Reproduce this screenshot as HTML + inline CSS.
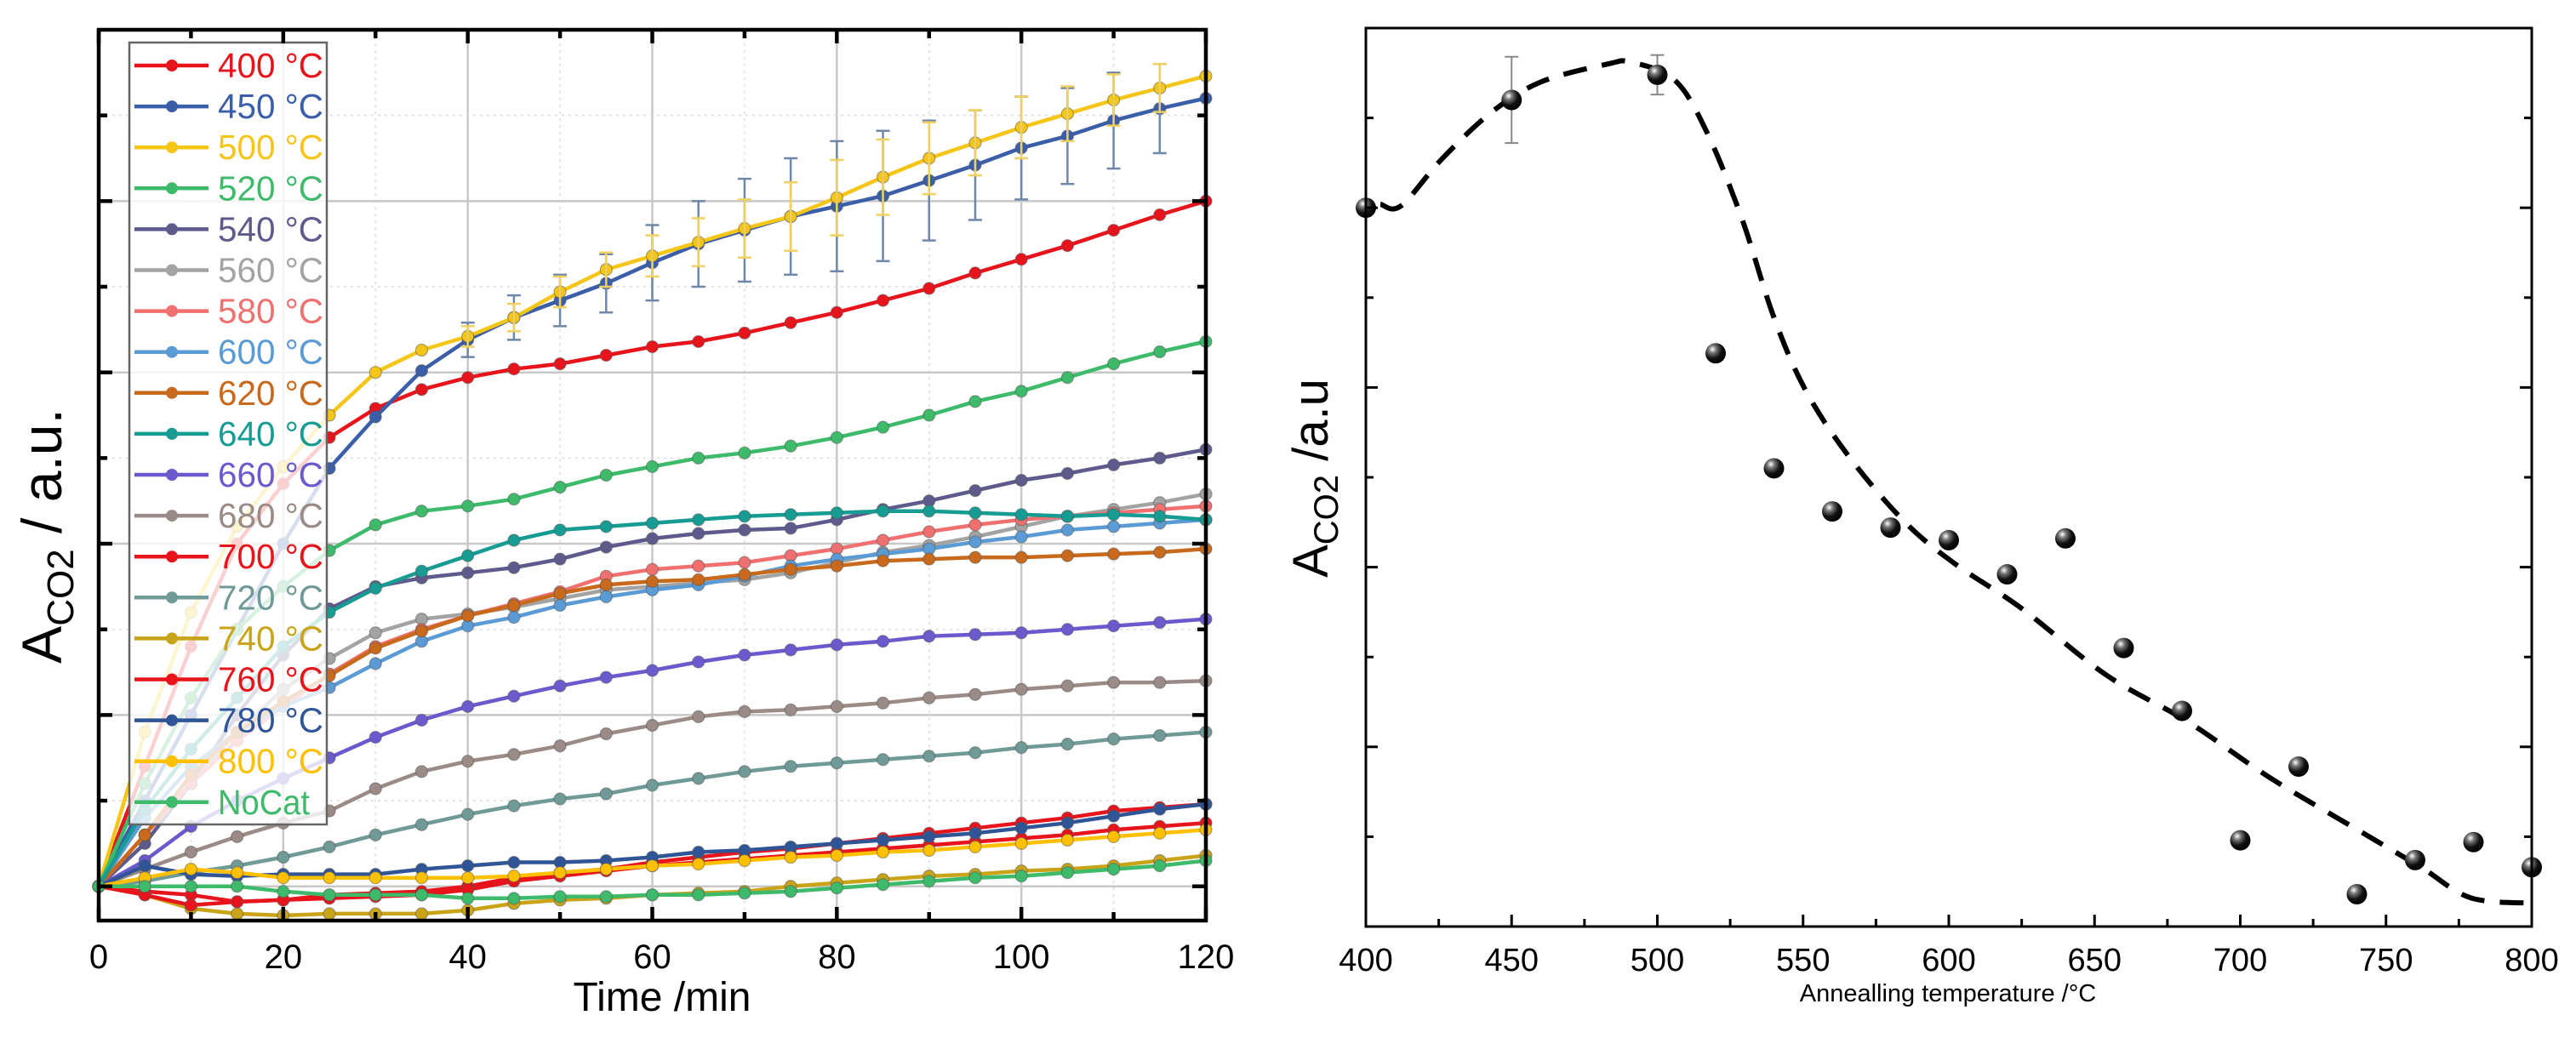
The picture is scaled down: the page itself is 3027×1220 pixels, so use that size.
<!DOCTYPE html>
<html><head><meta charset="utf-8">
<style>
html,body{margin:0;padding:0;background:#fff;}
svg{display:block;font-family:"Liberation Sans",Arial,sans-serif;}
</style></head>
<body>
<svg id="chart" width="3027" height="1220" viewBox="0 0 3027 1220" xmlns="http://www.w3.org/2000/svg">
<defs>
<radialGradient id="sph" cx="0.35" cy="0.3" r="0.75">
<stop offset="0" stop-color="#ffffff"/><stop offset="0.25" stop-color="#777"/><stop offset="0.6" stop-color="#111"/><stop offset="1" stop-color="#000"/>
</radialGradient>
</defs>
<g id="left"></g>
<g id="right"></g>
</svg>
<script>
// ---------- LEFT CHART DATA ----------
const times = [0,5,10,15,20,25,30,35,40,45,50,55,60,65,70,75,80,85,90,95,100,105,110,115,120];
const xTickLabels = ["0","20","40","60","80","100","120"];
const seriesNames = ["400 °C","450 °C","500 °C","520 °C","540 °C","560 °C","580 °C","600 °C","620 °C","640 °C","660 °C","680 °C","700 °C","720 °C","740 °C","760 °C","780 °C","800 °C","NoCat"];
const seriesColors = ["#e8141c","#3a5ea8","#f5c518","#3dbb6a","#5e5a8c","#a3a3a3","#f07070","#5b9bd5","#c8691c","#179c94","#6a5acd","#9b8b86","#e8141c","#6f9a98","#c9a318","#e8141c","#2f5597","#ffc000","#3dbb6a"];
const s400 = [0,0.7,1.4,2.0,2.35,2.62,2.79,2.90,2.97,3.02,3.05,3.10,3.15,3.18,3.23,3.29,3.35,3.42,3.49,3.58,3.66,3.74,3.83,3.92,4.0];
const s450 = [0,0.5,1.0,1.5,2.0,2.44,2.74,3.01,3.19,3.32,3.42,3.52,3.64,3.75,3.83,3.91,3.97,4.03,4.12,4.21,4.31,4.38,4.47,4.54,4.60];
const s500 = [0,0.9,1.6,2.1,2.45,2.75,3.0,3.13,3.21,3.32,3.47,3.6,3.68,3.76,3.84,3.91,4.02,4.14,4.25,4.34,4.43,4.51,4.59,4.66,4.73];
const s520 = [0,0.6,1.1,1.5,1.75,1.96,2.11,2.19,2.22,2.26,2.33,2.40,2.45,2.50,2.53,2.57,2.62,2.68,2.75,2.83,2.89,2.97,3.05,3.12,3.18];
const s540 = [0,0.25,0.6,1.0,1.35,1.62,1.75,1.80,1.83,1.86,1.91,1.98,2.03,2.06,2.08,2.09,2.14,2.20,2.25,2.31,2.37,2.41,2.46,2.50,2.55];
const s560 = [0,0.3,0.6,0.9,1.15,1.33,1.48,1.56,1.59,1.63,1.68,1.73,1.75,1.77,1.79,1.83,1.89,1.95,1.99,2.04,2.10,2.16,2.20,2.24,2.29];
const s580 = [0,0.3,0.6,0.85,1.05,1.24,1.40,1.50,1.58,1.65,1.72,1.81,1.85,1.87,1.89,1.93,1.97,2.02,2.07,2.11,2.14,2.16,2.18,2.20,2.22];
const s600 = [0,0.4,0.7,0.9,1.05,1.16,1.30,1.43,1.52,1.57,1.64,1.69,1.73,1.76,1.81,1.87,1.91,1.94,1.97,2.01,2.04,2.08,2.10,2.12,2.14];
const s620 = [0,0.3,0.65,0.9,1.08,1.23,1.39,1.49,1.58,1.64,1.71,1.76,1.78,1.79,1.82,1.85,1.87,1.90,1.91,1.92,1.92,1.93,1.94,1.95,1.97];
const s640 = [0,0.45,0.8,1.1,1.4,1.60,1.74,1.84,1.93,2.02,2.08,2.10,2.12,2.14,2.16,2.17,2.18,2.19,2.19,2.18,2.17,2.16,2.17,2.16,2.14];
const s660 = [0,0.15,0.35,0.5,0.63,0.75,0.87,0.97,1.05,1.11,1.17,1.22,1.26,1.31,1.35,1.38,1.41,1.43,1.46,1.47,1.48,1.50,1.52,1.54,1.56];
const s680 = [0,0.1,0.2,0.29,0.37,0.44,0.57,0.67,0.73,0.77,0.82,0.89,0.94,0.99,1.02,1.03,1.05,1.07,1.10,1.12,1.15,1.17,1.19,1.19,1.20];
const s700 = [0,-0.03,-0.05,-0.09,-0.08,-0.05,-0.04,-0.03,0.0,0.05,0.08,0.10,0.14,0.17,0.2,0.22,0.25,0.28,0.31,0.34,0.37,0.40,0.44,0.46,0.48];
const s720 = [0,0.03,0.08,0.12,0.17,0.23,0.30,0.36,0.42,0.47,0.51,0.54,0.59,0.63,0.67,0.70,0.72,0.74,0.76,0.78,0.81,0.83,0.86,0.88,0.90];
const s740 = [0,-0.05,-0.13,-0.16,-0.17,-0.16,-0.16,-0.16,-0.14,-0.10,-0.08,-0.07,-0.05,-0.04,-0.03,0.0,0.02,0.04,0.06,0.07,0.09,0.10,0.12,0.15,0.18];
const s760 = [0,-0.05,-0.11,-0.09,-0.08,-0.07,-0.06,-0.05,-0.02,0.03,0.06,0.09,0.12,0.14,0.16,0.18,0.20,0.22,0.24,0.26,0.28,0.30,0.33,0.35,0.37];
const s780 = [0,0.12,0.07,0.06,0.07,0.07,0.07,0.1,0.12,0.14,0.14,0.15,0.17,0.20,0.21,0.23,0.25,0.27,0.29,0.31,0.34,0.37,0.41,0.45,0.48];
const s800 = [0,0.05,0.1,0.08,0.05,0.05,0.05,0.05,0.05,0.06,0.08,0.10,0.12,0.13,0.15,0.17,0.18,0.20,0.21,0.23,0.25,0.27,0.29,0.31,0.33];
const sNoCat = [0,0.0,0.0,0.0,-0.03,-0.05,-0.05,-0.05,-0.07,-0.07,-0.06,-0.06,-0.05,-0.05,-0.04,-0.03,-0.01,0.01,0.03,0.05,0.06,0.08,0.10,0.12,0.15];
const err450 = [null,null,null,null,null,null,null,null,0.10,0.13,0.15,0.17,0.22,0.25,0.30,0.34,0.38,0.38,0.35,0.32,0.30,0.28,0.28,0.26,null];
const err500 = [null,null,null,null,null,null,null,null,0.06,0.08,0.09,0.10,0.12,0.14,0.17,0.20,0.22,0.22,0.21,0.19,0.18,0.16,0.15,0.14,null];
const allSeries = [s400,s450,s500,s520,s540,s560,s580,s600,s620,s640,s660,s680,s700,s720,s740,s760,s780,s800,sNoCat];

// ---------- RIGHT CHART DATA ----------
const annealT = [400,450,500,520,540,560,580,600,620,640,660,680,700,720,740,760,780,800];
const annealV = [4.0,4.6,4.74,3.19,2.55,2.31,2.22,2.15,1.96,2.16,1.55,1.20,0.48,0.89,0.18,0.37,0.47,0.33];
const annealErr = [0,0.24,0.11,0,0,0,0,0,0,0,0,0,0,0,0,0,0,0];
const fitT = [405,412,426,443,460,483,491,506,517,529,540,551,566,585,602,625,654,682,710,739,762,779,800];
const fitV = [4.02,4.01,4.27,4.53,4.70,4.80,4.81,4.71,4.42,3.94,3.39,2.98,2.61,2.25,2.02,1.77,1.40,1.14,0.83,0.55,0.33,0.16,0.13];
const rTickLabels = ["400","450","500","550","600","650","700","750","800"];

const NS="http://www.w3.org/2000/svg";
function mk(parent,tag,attrs){const e=document.createElementNS(NS,tag);for(const k in attrs)e.setAttribute(k,attrs[k]);parent.appendChild(e);return e;}

// ---------- LEFT ----------
(function(){
const g=document.getElementById('left');
const X0=116,X1=1417,Y0=35,Y1=1082;
const xMin=0,xMax=120,yMin=-0.2,yMax=5;
const xs=t=>X0+(t-xMin)/(xMax-xMin)*(X1-X0);
const ys=v=>Y1-(v-yMin)/(yMax-yMin)*(Y1-Y0);
const grid=mk(g,'g',{});


for(let t=10;t<120;t+=10){const major=t%20===0;
 mk(grid,'line',{x1:xs(t),x2:xs(t),y1:Y0,y2:Y1,stroke:major?'#c8c8c8':'#dcdcdc','stroke-width':major?2.5:1.5,'stroke-dasharray':major?'':'3 5'});}
for(let k=0;k<=9;k++){const v=k*0.5;if(ys(v)<Y0+3)continue;const major=k%2===0;
 mk(grid,'line',{x1:X0,x2:X1,y1:ys(v),y2:ys(v),stroke:major?'#c8c8c8':'#dcdcdc','stroke-width':major?2.5:1.5,'stroke-dasharray':major?'':'3 5'});}
allSeries.forEach((arr,i)=>{
 const sg=mk(g,'g',{});
 
 
 const d=arr.map((v,j)=>(j?'L':'M')+xs(times[j]).toFixed(1)+','+ys(v).toFixed(1)).join(' ');
 mk(sg,'path',{d:d,fill:'none',stroke:seriesColors[i],'stroke-width':4.5,'stroke-linejoin':'round'});
 arr.forEach((v,j)=>{const c=mk(sg,'circle',{cx:xs(times[j]),cy:ys(v),r:7,fill:seriesColors[i],stroke:'#555','stroke-width':1.2,'stroke-opacity':0.5});
  
  });
});
[[s450,err450,'#6f87a8'],[s500,err500,'#f0d060']].forEach(([arr,err,col])=>{
 const eg=mk(g,'g',{});
 
 
 err.forEach((e,j)=>{if(e==null)return;const x=xs(times[j]);
  mk(eg,'line',{x1:x,x2:x,y1:ys(arr[j]-e),y2:ys(arr[j]+e),stroke:col,'stroke-width':2.5});
  mk(eg,'line',{x1:x-8,x2:x+8,y1:ys(arr[j]-e),y2:ys(arr[j]-e),stroke:col,'stroke-width':2.5});
  mk(eg,'line',{x1:x-8,x2:x+8,y1:ys(arr[j]+e),y2:ys(arr[j]+e),stroke:col,'stroke-width':2.5});});
});
const lg=mk(g,'g',{});


mk(lg,'rect',{x:152,y:50,width:232,height:919,fill:'#fff','fill-opacity':0.8,stroke:'#666','stroke-width':2.5});
seriesNames.forEach((n,i)=>{const y=77+i*48.1;
 const e=mk(lg,'g',{});
 
 
 mk(e,'line',{x1:158,x2:245,y1:y,y2:y,stroke:seriesColors[i],'stroke-width':4.5});
 mk(e,'circle',{cx:202,cy:y,r:7,fill:seriesColors[i]});
 const t=mk(e,'text',{x:256,y:y+14,'font-size':41,fill:seriesColors[i],textLength:n==='NoCat'?108:124,lengthAdjust:'spacingAndGlyphs'});t.textContent=n;});
const fr=mk(g,'rect',{x:X0,y:Y0,width:X1-X0,height:Y1-Y0,fill:'none',stroke:'#000','stroke-width':4.5});


for(let t=0;t<=120;t+=10){const L=t%20===0?16:10;
 mk(g,'line',{x1:xs(t),x2:xs(t),y1:Y1,y2:Y1-L,stroke:'#000','stroke-width':4.5});
 mk(g,'line',{x1:xs(t),x2:xs(t),y1:Y0,y2:Y0+L,stroke:'#000','stroke-width':4.5});}
for(let k=0;k<=9;k++){const v=k*0.5;const L=k%2===0?16:10;
 mk(g,'line',{x1:X0,x2:X0+L,y1:ys(v),y2:ys(v),stroke:'#000','stroke-width':4.5});
 mk(g,'line',{x1:X1,x2:X1-L,y1:ys(v),y2:ys(v),stroke:'#000','stroke-width':4.5});}
xTickLabels.forEach((l,i)=>{const t=mk(g,'text',{x:xs(i*20),y:1138,'font-size':40,'text-anchor':'middle',fill:'#000'});t.textContent=l;
 
 });
const xt=mk(g,'text',{x:778,y:1188,'font-size':48,'text-anchor':'middle',fill:'#000'});xt.textContent='Time /min';


const yt=mk(g,'text',{x:0,y:0,'font-size':66,'text-anchor':'middle',fill:'#000',transform:'translate(72,630) rotate(-90)'});
yt.innerHTML='A<tspan font-size="44" dy="14">CO2</tspan><tspan dy="-14"> / a.u.</tspan>';


})();

// ---------- RIGHT ----------
(function(){
const g=document.getElementById('right');
const X0=1605,X1=2975,Y0=33,Y1=1089;
const xs=t=>X0+(t-400)/400*(X1-X0);
const ys=v=>Y1-v/5*(Y1-Y0);
const P=fitT.map((t,i)=>[xs(t),ys(fitV[i])]);
let d='M'+P[0][0]+','+P[0][1];
for(let i=0;i<P.length-1;i++){const p0=P[i-1]||P[i],p1=P[i],p2=P[i+1],p3=P[i+2]||P[i+1];
 d+=' C'+(p1[0]+(p2[0]-p0[0])/6)+','+(p1[1]+(p2[1]-p0[1])/6)+' '+(p2[0]-(p3[0]-p1[0])/6)+','+(p2[1]-(p3[1]-p1[1])/6)+' '+p2[0]+','+p2[1];}
const fit=mk(g,'path',{d:d,fill:'none',stroke:'#000','stroke-width':6,'stroke-dasharray':'28 18'});


annealT.forEach((t,i)=>{const x=xs(t),y=ys(annealV[i]);const e=annealErr[i];
 if(e>0){const eb=mk(g,'g',{});
  
  
  mk(eb,'line',{x1:x,x2:x,y1:ys(annealV[i]-e),y2:ys(annealV[i]+e),stroke:'#888','stroke-width':2});
  mk(eb,'line',{x1:x-8,x2:x+8,y1:ys(annealV[i]-e),y2:ys(annealV[i]-e),stroke:'#888','stroke-width':2});
  mk(eb,'line',{x1:x-8,x2:x+8,y1:ys(annealV[i]+e),y2:ys(annealV[i]+e),stroke:'#888','stroke-width':2});}
 const c=mk(g,'circle',{cx:x,cy:y,r:12,fill:'url(#sph)'});
 
 });
const fr=mk(g,'rect',{x:X0,y:Y0,width:X1-X0,height:Y1-Y0,fill:'none',stroke:'#000','stroke-width':3});


for(let t=400;t<=800;t+=25){const L=t%50===0?14:9;
 mk(g,'line',{x1:xs(t),x2:xs(t),y1:Y1,y2:Y1-L,stroke:'#000','stroke-width':3});}
for(let k=1;k<10;k++){const v=k*0.5;const L=k%2===0?14:9;
 mk(g,'line',{x1:X0,x2:X0+L,y1:ys(v),y2:ys(v),stroke:'#000','stroke-width':3});
 mk(g,'line',{x1:X1,x2:X1-L,y1:ys(v),y2:ys(v),stroke:'#000','stroke-width':3});}
rTickLabels.forEach((l,i)=>{const t=mk(g,'text',{x:xs(400+i*50),y:1141,'font-size':38,'text-anchor':'middle',fill:'#000'});t.textContent=l;
 
 });
const xt=mk(g,'text',{x:2289,y:1177,'font-size':29,'text-anchor':'middle',fill:'#000'});xt.textContent='Annealling temperature /°C';


const yt=mk(g,'text',{x:0,y:0,'font-size':58,'text-anchor':'middle',fill:'#000',transform:'translate(1560,562) rotate(-90)'});
yt.innerHTML='A<tspan font-size="40" dy="12">CO2</tspan><tspan dy="-12"> /a.u</tspan>';


})();
</script>
</body></html>
